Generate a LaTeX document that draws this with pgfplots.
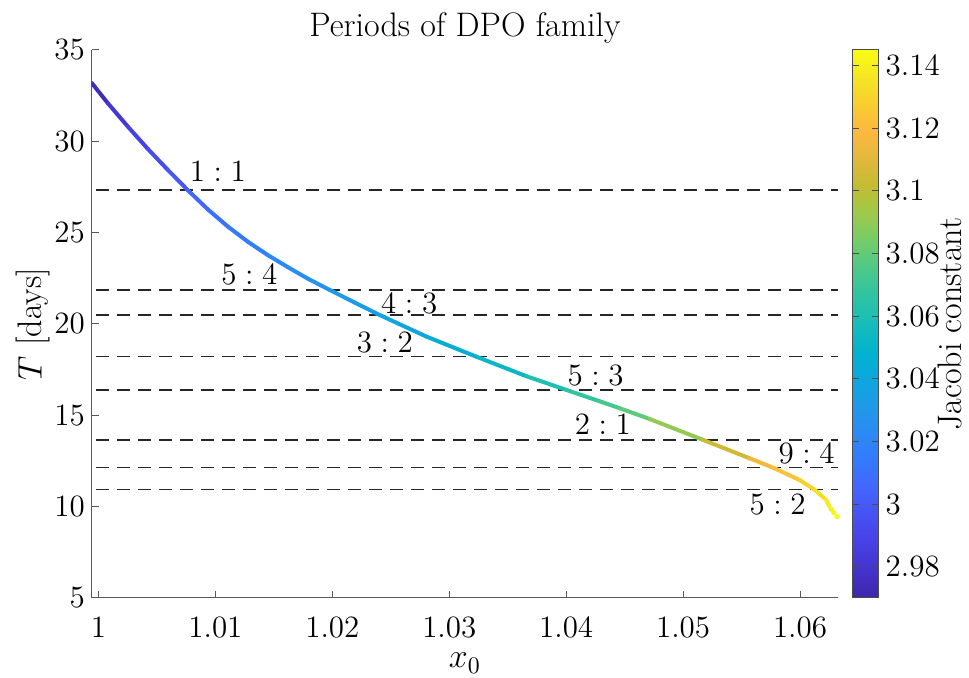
\RequirePackage{fix-cm}
\documentclass[border=0pt]{standalone}
\usepackage[no-math]{fontspec}
\usepackage{pgfplots}
\pgfplotsset{compat=1.18}

\newcommand{\fs}{\fontsize{15.5}{18}\selectfont}
\newcommand{\fl}{\fontsize{17}{20}\selectfont}

% DPO family: initial position x0, period T [days], Jacobi constant C
\pgfplotstableread{
x        T      C
0.99943  33.19  2.972
1.00081  32.08  2.978
1.00252  30.80  2.985
1.00423  29.58  2.991
1.00594  28.43  2.997
1.00765  27.32  3.003
1.00936  26.27  3.008
1.01107  25.33  3.012
1.01278  24.50  3.016
1.01449  23.77  3.020
1.01620  23.11  3.023
1.01791  22.48  3.026
1.01979  21.86  3.029
1.02190  21.18  3.032
1.02406  20.49  3.035
1.02805  19.31  3.042
1.03232  18.21  3.049
1.03660  17.14  3.057
1.04002  16.39  3.064
1.04286  15.77  3.071
1.04457  15.39  3.075
1.04714  14.80  3.083
1.05169  13.66  3.098
1.05568  12.65  3.112
1.05768  12.14  3.119
1.05996  11.46  3.127
1.06124  10.93  3.132
1.06224  10.37  3.137
1.06252  10.00  3.140
}\dpoline

% sparse members at the end of the family
\pgfplotstableread{
x        T      C
1.06267  9.86   3.141
1.06289  9.67   3.143
1.06315  9.46   3.145
}\dpotail

\begin{document}
\begin{tikzpicture}
\begin{axis}[
  name=main,
  scale only axis, width=373.1pt, height=274pt,
  xmin=0.99943, xmax=1.06325, ymin=5, ymax=35,
  axis x line*=bottom, axis y line*=left,
  axis line style={black!65, line width=0.5pt, -},
  tick align=inside, major tick length=3.7pt,
  tick style={black!65, line width=0.5pt},
  xtick={1,1.01,1.02,1.03,1.04,1.05,1.06},
  ytick={5,10,15,20,25,30,35},
  scaled ticks=false,
  tick label style={font=\fs},
  xticklabel style={anchor=base, yshift=-20pt},
  every axis title/.style={at={(axis description cs:0.5,1)}, anchor=base, yshift=6.5pt, font=\fl},
  every axis x label/.style={at={(axis description cs:0.5,-0.1277)}, anchor=base, font=\fl},
  every axis y label/.style={at={(axis description cs:-0.0788,0.5)}, rotate=90, anchor=center, font=\fl},
  title={Periods of DPO family},
  xlabel={$x_0$}, ylabel={$T$ [days]},
  colormap={parula}{
    rgb=(0.242,0.150,0.660) rgb=(0.265,0.197,0.794) rgb=(0.278,0.254,0.897)
    rgb=(0.281,0.315,0.952) rgb=(0.267,0.397,0.992) rgb=(0.207,0.474,0.993)
    rgb=(0.170,0.540,0.960) rgb=(0.125,0.600,0.905) rgb=(0.050,0.655,0.870)
    rgb=(0.010,0.700,0.810) rgb=(0.090,0.740,0.730) rgb=(0.180,0.765,0.640)
    rgb=(0.300,0.785,0.540) rgb=(0.450,0.800,0.420) rgb=(0.610,0.790,0.300)
    rgb=(0.760,0.740,0.200) rgb=(0.880,0.720,0.230) rgb=(0.990,0.720,0.250)
    rgb=(0.975,0.800,0.190) rgb=(0.960,0.900,0.140) rgb=(0.977,0.984,0.081)
  },
  point meta min=2.970, point meta max=3.145,
  colorbar,
  colorbar style={
    width=13.3pt,
    at={(parent axis.north east)}, anchor=north west, xshift=-1.5pt,
    ytick={2.98,3,3.02,3.04,3.06,3.08,3.1,3.12,3.14},
    tick align=inside, major tick length=3.5pt,
    tick style={black!70, line width=0.5pt},
    axis line style={black!70, line width=0.5pt},
    yticklabel style={font=\fs},
    ylabel={Jacobi constant},
    every axis y label/.style={at={(axis description cs:3.68,0.5)}, rotate=90, anchor=center, font=\fl},
  },
]

% resonance periods (multiples of the lunar sidereal period)
\pgfplotsset{resline/.style={black!85, line width=0.8pt, dash pattern=on 6.3pt off 4.2pt, forget plot}}
\addplot[resline] coordinates {(0.9998,27.32) (1.06325,27.32)};
\addplot[resline] coordinates {(0.9998,21.86) (1.06325,21.86)};
\addplot[resline] coordinates {(0.9998,20.49) (1.06325,20.49)};
\addplot[resline] coordinates {(0.9998,18.21) (1.06325,18.21)};
\addplot[resline] coordinates {(0.9998,16.39) (1.06325,16.39)};
\addplot[resline] coordinates {(0.9998,13.66) (1.06325,13.66)};
\addplot[resline] coordinates {(0.9998,12.14) (1.06325,12.14)};
\addplot[resline] coordinates {(0.9998,10.93) (1.06325,10.93)};

% family curve coloured by Jacobi constant
\addplot[mesh, point meta=explicit, line width=2pt, line cap=round, line join=round]
  table[x=x, y=T, meta=C] {\dpoline};
\addplot[scatter, only marks, point meta=explicit, mark=*, mark size=1.1pt,
  scatter/use mapped color={draw=mapped color, fill=mapped color}]
  table[x=x, y=T, meta=C] {\dpotail};

% resonance labels
\node[anchor=base, font=\fs] at (axis cs:1.01021,27.79) {$1:1$};
\node[anchor=base, font=\fs] at (axis cs:1.01291,22.14) {$5:4$};
\node[anchor=base, font=\fs] at (axis cs:1.02658,20.59) {$4:3$};
\node[anchor=base, font=\fs] at (axis cs:1.02449,18.43) {$3:2$};
\node[anchor=base, font=\fs] at (axis cs:1.04252,16.66) {$5:3$};
\node[anchor=base, font=\fs] at (axis cs:1.04315,13.93) {$2:1$};
\node[anchor=base, font=\fs] at (axis cs:1.06056,12.38) {$9:4$};
\node[anchor=base, font=\fs] at (axis cs:1.05808,9.55) {$5:2$};
\end{axis}
\pgfresetboundingbox
\path[use as bounding box] ([xshift=-45.9pt, yshift=-40pt]main.south west)
  rectangle ([xshift=65.5pt, yshift=25pt]main.north east);
\end{tikzpicture}
\end{document}
